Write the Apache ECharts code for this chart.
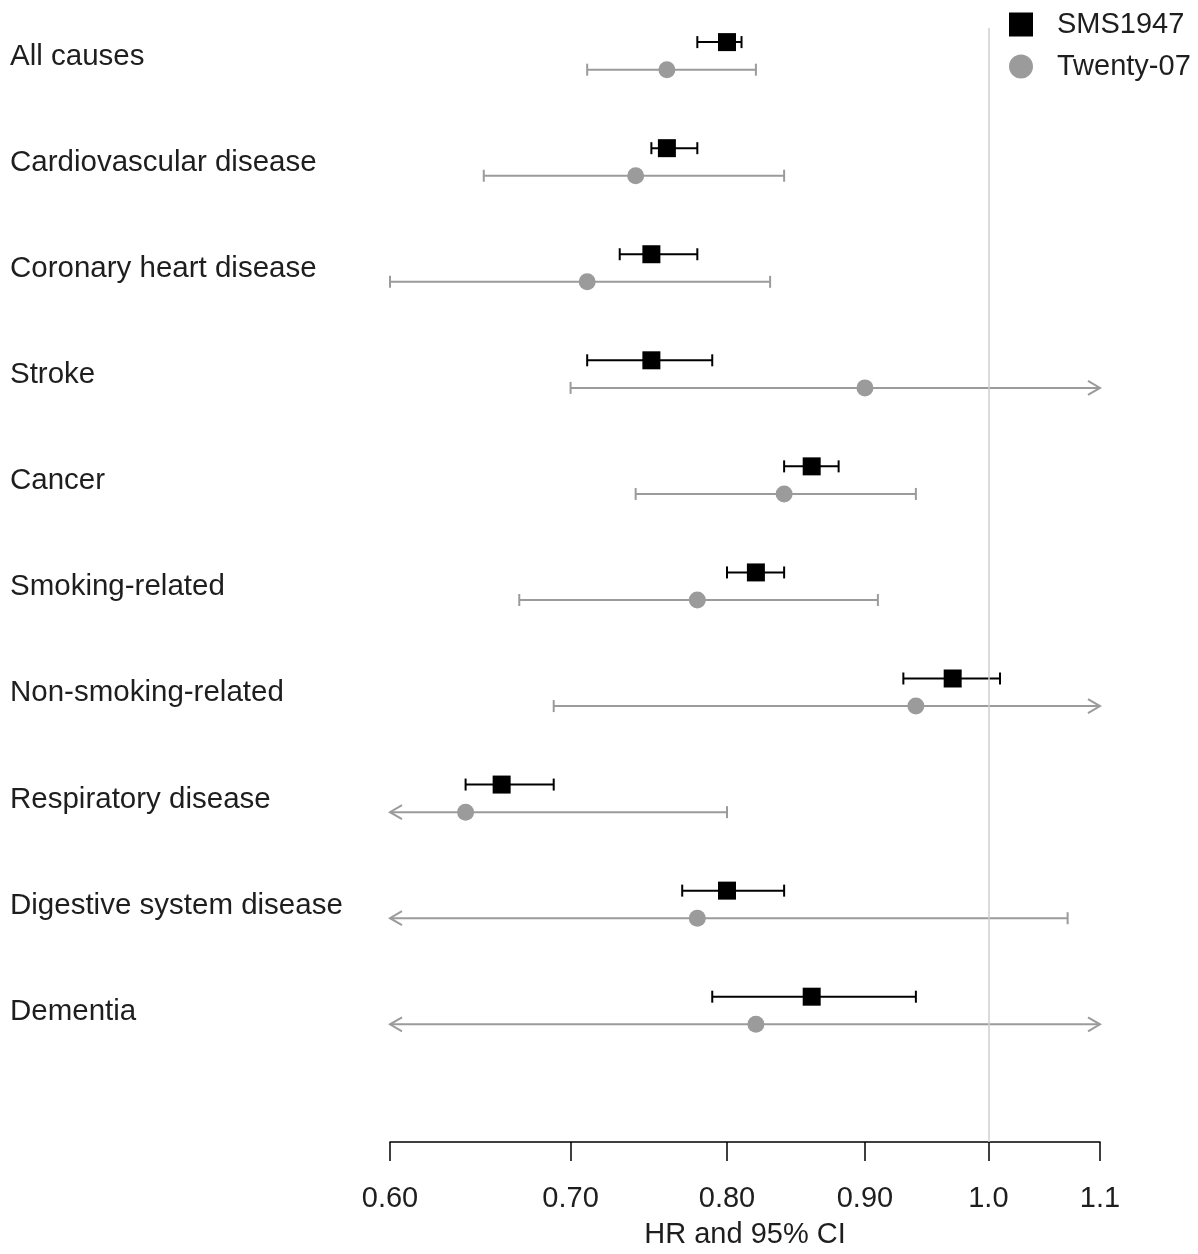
<!DOCTYPE html>
<html>
<head>
<meta charset="utf-8">
<script src="https://cdn.jsdelivr.net/npm/echarts@6/dist/echarts.min.js"></script>
<style>
  html, body { margin: 0; padding: 0; background: #fff; overflow: hidden; }
  #chart { width: 1198px; height: 1254px; }
</style>
</head>
<body>
<div id="chart"></div>
<script>
// Causes of death, top to bottom
const categories = [
  'All causes',
  'Cardiovascular disease',
  'Coronary heart disease',
  'Stroke',
  'Cancer',
  'Smoking-related',
  'Non-smoking-related',
  'Respiratory disease',
  'Digestive system disease',
  'Dementia'
];

// SMS1947: hazard ratio and 95% CI
const smsHR = [0.80, 0.76, 0.75, 0.75, 0.86, 0.82, 0.97, 0.66, 0.80, 0.86];
const smsLo = [0.78, 0.75, 0.73, 0.71, 0.84, 0.80, 0.93, 0.64, 0.77, 0.79];
const smsHi = [0.81, 0.78, 0.78, 0.79, 0.88, 0.84, 1.01, 0.69, 0.84, 0.94];

// Twenty-07: hazard ratio and 95% CI (null = interval runs past the plotted range)
const t07HR = [0.76, 0.74, 0.71, 0.90, 0.84, 0.78, 0.94, 0.64, 0.78, 0.82];
const t07Lo = [0.71, 0.65, 0.60, 0.70, 0.74, 0.67, 0.69, null, null, null];
const t07Hi = [0.82, 0.84, 0.83, null, 0.94, 0.91, null, 0.80, 1.07, null];

// Axis ticks (log-scaled HR axis)
const tickValues = [0.6, 0.7, 0.8, 0.9, 1.0, 1.1];
const tickLabels = ['0.60', '0.70', '0.80', '0.90', '1.0', '1.1'];

const X_MIN = 0.6, X_MAX = 1.1;
const SMS_OFFSET = -0.14, T07_OFFSET = 0.12;
const FONT = "'Liberation Sans', Arial, sans-serif";
const TEXT = '#1e1e1e';
const GREY = '#9b9b9b';
const ln = Math.log;

function pointData(hr, offset) {
  return hr.map((v, i) => [ln(v), i + offset]);
}

function whiskerData(lo, hi, offset) {
  return categories.map((c, i) => [
    ln(lo[i] === null ? X_MIN : lo[i]),
    ln(hi[i] === null ? X_MAX : hi[i]),
    i + offset,
    lo[i] === null ? 1 : 0,
    hi[i] === null ? 1 : 0
  ]);
}

// CI line with end caps, or open arrow heads where the interval is truncated
function makeWhisker(color) {
  return function (params, api) {
    const a = api.coord([api.value(0), api.value(2)]);
    const b = api.coord([api.value(1), api.value(2)]);
    const style = { stroke: color, lineWidth: 2, fill: null };
    const kids = [{ type: 'line', shape: { x1: a[0], y1: a[1], x2: b[0], y2: b[1] }, style: style }];
    function end(p, dir, open) {
      if (open) {
        kids.push({
          type: 'polyline',
          shape: { points: [[p[0] - dir * 12, p[1] - 7], [p[0], p[1]], [p[0] - dir * 12, p[1] + 7]] },
          style: style
        });
      } else {
        kids.push({ type: 'line', shape: { x1: p[0], y1: p[1] - 6, x2: p[0], y2: p[1] + 6 }, style: style });
      }
    }
    end(a, -1, api.value(3));
    end(b, 1, api.value(4));
    return { type: 'group', children: kids };
  };
}

function tickText(v) {
  for (let k = 0; k < tickValues.length; k++) {
    if (Math.abs(ln(tickValues[k]) - v) < 1e-6) return tickLabels[k];
  }
  return '';
}

const chart = echarts.init(document.getElementById('chart'), null, { renderer: 'canvas' });

chart.setOption({
  animation: false,
  backgroundColor: '#ffffff',
  textStyle: { fontFamily: FONT },
  grid: { left: 390, width: 710, top: 28, height: 1117, containLabel: false },
  legend: {
    orient: 'vertical',
    left: 1009,
    top: 10,
    padding: 0,
    itemWidth: 24,
    itemHeight: 24,
    itemGap: 13,
    selectedMode: false,
    data: [
      { name: 'SMS1947', icon: 'rect' },
      { name: 'Twenty-07', icon: 'circle' }
    ],
    textStyle: { fontFamily: FONT, fontSize: 29, lineHeight: 29, color: TEXT, padding: [0, 0, 0, 19] }
  },
  xAxis: {
    type: 'value',
    min: ln(X_MIN),
    max: ln(X_MAX),
    name: 'HR and 95% CI',
    nameLocation: 'middle',
    nameGap: 78,
    nameTextStyle: { fontFamily: FONT, fontSize: 29, color: TEXT },
    axisLine: { show: true, onZero: false, lineStyle: { color: '#000', width: 1.5 } },
    axisTick: { show: true, length: 19, lineStyle: { color: '#000', width: 1.5 }, customValues: tickValues.map(ln) },
    axisLabel: {
      customValues: tickValues.map(ln),
      formatter: tickText,
      margin: 42,
      fontFamily: FONT,
      fontSize: 29,
      color: TEXT
    },
    splitLine: { show: false }
  },
  yAxis: {
    type: 'value',
    inverse: true,
    min: -0.273,
    max: 10.23,
    axisLine: { show: false },
    axisTick: { show: false },
    splitLine: { show: false },
    axisLabel: {
      customValues: categories.map((c, i) => i),
      formatter: v => categories[Math.round(v)],
      align: 'left',
      verticalAlign: 'middle',
      margin: 380,
      fontFamily: FONT,
      fontSize: 29.5,
      color: TEXT
    }
  },
  series: [
    {
      name: 'SMS1947',
      type: 'scatter',
      symbol: 'rect',
      symbolSize: 18,
      z: 4,
      itemStyle: { color: '#000000', opacity: 1 },
      data: pointData(smsHR, SMS_OFFSET)
    },
    {
      name: 'Twenty-07',
      type: 'scatter',
      symbol: 'circle',
      symbolSize: 17,
      z: 4,
      itemStyle: { color: GREY, opacity: 1 },
      data: pointData(t07HR, T07_OFFSET)
    },
    {
      name: 'SMS1947',
      type: 'custom',
      z: 3,
      itemStyle: { color: '#000000' },
      renderItem: makeWhisker('#000000'),
      encode: { x: [0, 1], y: 2 },
      data: whiskerData(smsLo, smsHi, SMS_OFFSET)
    },
    {
      name: 'Twenty-07',
      type: 'custom',
      z: 3,
      itemStyle: { color: GREY },
      renderItem: makeWhisker(GREY),
      encode: { x: [0, 1], y: 2 },
      data: whiskerData(t07Lo, t07Hi, T07_OFFSET),
      // reference line at HR = 1
      markLine: {
        silent: true,
        symbol: 'none',
        label: { show: false },
        lineStyle: { color: '#cfcfcf', width: 1.5, type: 'solid' },
        data: [{ xAxis: 0 }]
      }
    }
  ]
});
</script>
</body>
</html>
